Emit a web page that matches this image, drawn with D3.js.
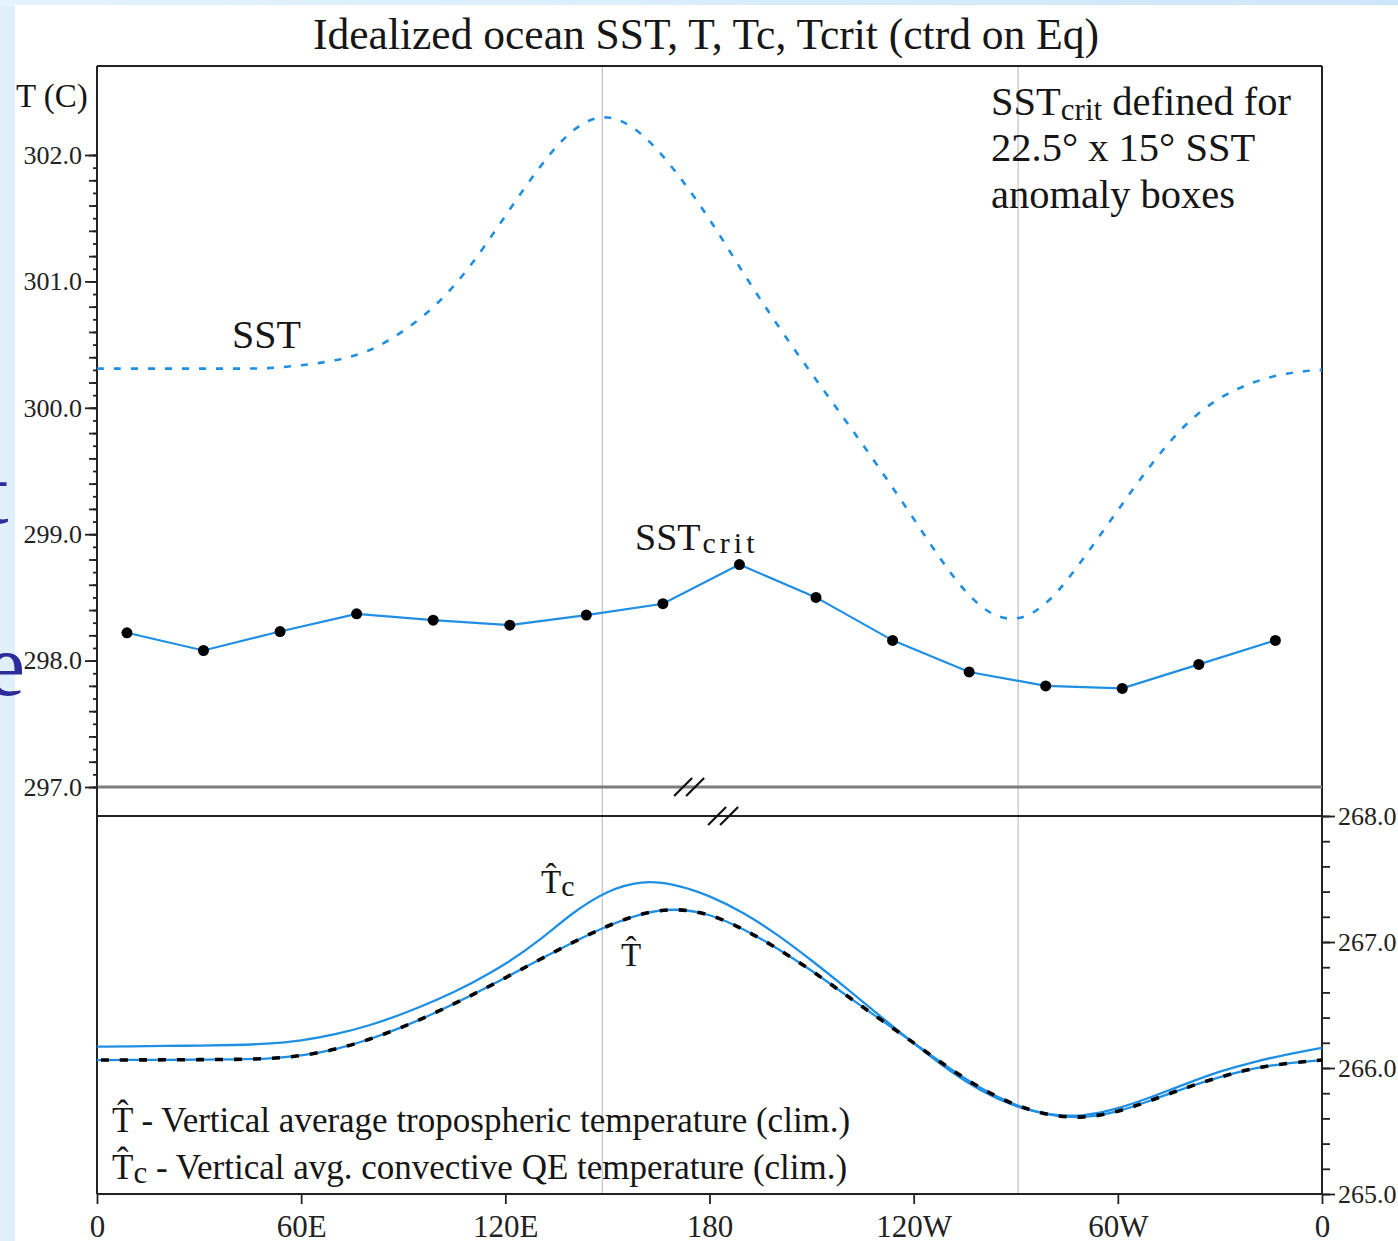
<!DOCTYPE html>
<html><head><meta charset="utf-8">
<script src="https://cdn.jsdelivr.net/npm/d3@7"></script>
<style>
body{margin:0;background:#fff;}
svg{display:block;}
text{font-family:"Liberation Serif","Times New Roman",serif;fill:#161616;}
</style>
</head><body>
<svg id="c" width="1398" height="1241"></svg>
<script>
// ---------------- data ----------------
const lonGrid = [0,10,20,30,40,50,60,70,80,90,100,110,120,130,140,150,160,170,180,190,200,210,220,230,240,250,260,270,280,290,300,310,320,330,340,350,360];
const sstVal  = [300.31,300.31,300.31,300.31,300.31,300.31,300.335,300.37,300.44,300.60,300.81,301.12,301.52,301.91,302.23,302.34,302.19,301.88,301.50,301.06,300.65,300.27,299.90,299.52,299.125,298.71,298.39,298.29,298.45,298.81,299.19,299.565,299.885,300.09,300.21,300.28,300.30];
const tcVal   = [266.17,266.172,266.175,266.178,266.182,266.19,266.215,266.265,266.335,266.43,266.54,266.67,266.82,267.01,267.24,267.41,267.49,267.46,267.37,267.235,267.06,266.855,266.64,266.415,266.195,265.985,265.81,265.69,265.625,265.615,265.675,265.77,265.875,265.975,266.05,266.11,266.16];
const tVal    = [266.063,266.064,266.065,266.066,266.068,266.072,266.095,266.145,266.225,266.325,266.445,266.575,266.715,266.86,267.0,267.13,267.23,267.27,267.225,267.105,266.95,266.775,266.58,266.39,266.2,266.005,265.83,265.70,265.62,265.60,265.65,265.745,265.845,265.93,266.0,266.04,266.063];
const critLon = [8.8,31.3,53.8,76.3,98.8,121.3,143.8,166.3,188.8,211.3,233.8,256.3,278.8,301.3,323.8,346.3];
const critVal = [298.22,298.08,298.23,298.37,298.32,298.28,298.36,298.45,298.76,298.50,298.16,297.91,297.80,297.78,297.97,298.16];
const xTickVals   = [0,60,120,180,240,300,360];
const xTickLabels = ["0","60E","120E","180","120W","60W","0"];
const topTicks = [297,298,299,300,301,302];
const botTicks = [265,266,267,268];
const refLon = [148.5,270.7];
const breakLonTop = 174, breakLonBot = 184;

// ---------------- layout ----------------
const svg = d3.select("#c");
const L = 97, R = 1322;
const x = d3.scaleLinear().domain([0,360]).range([L,R]);
const yTop = d3.scaleLinear().domain([297,302]).range([787,155]);
const yBot = d3.scaleLinear().domain([265,268]).range([1194,816]);
const topY0 = 66;
const blue = "#1f8fe3";

// background
const defs = svg.append("defs");
const g1 = defs.append("linearGradient").attr("id","tg").attr("x1","0").attr("x2","1").attr("y1","0").attr("y2","0");
g1.append("stop").attr("offset","0").attr("stop-color","#e4f3fd");
g1.append("stop").attr("offset","1").attr("stop-color","#cde7fa");
svg.append("rect").attr("width",1398).attr("height",1241).attr("fill","#dff0fc");
svg.append("rect").attr("width",1398).attr("height",6).attr("fill","url(#tg)");
svg.append("rect").attr("x",15).attr("y",5).attr("width",1383).attr("height",1236).attr("fill","#fff");

// partial slide letters on left edge (parts of background slide text)
svg.append("text").attr("x",-16).attr("y",523).attr("font-size",88).style("fill","#2c2c9c").text("t");
svg.append("text").attr("x",-14).attr("y",695).attr("font-size",88).style("fill","#2c2c9c").text("e");

// reference vertical lines
svg.selectAll("line.ref").data(refLon).enter().append("line")
  .attr("x1",d=>x(d)).attr("x2",d=>x(d)).attr("y1",topY0).attr("y2",1194)
  .attr("stroke","#c9c9cf").attr("stroke-width",1.4);

// frame lines
const frame = svg.append("g").attr("stroke","#222").attr("stroke-width",2);
frame.append("line").attr("x1",L).attr("x2",L).attr("y1",topY0).attr("y2",1194);
frame.append("line").attr("x1",R).attr("x2",R).attr("y1",topY0).attr("y2",1194);
frame.append("line").attr("x1",L).attr("x2",R).attr("y1",topY0).attr("y2",topY0);
frame.append("line").attr("x1",L).attr("x2",R).attr("y1",yBot(268)).attr("y2",yBot(268));
frame.append("line").attr("x1",L).attr("x2",R).attr("y1",yBot(265)).attr("y2",yBot(265));
svg.append("line").attr("x1",L).attr("x2",R).attr("y1",yTop(297)).attr("y2",yTop(297))
  .attr("stroke","#7d7d7d").attr("stroke-width",3.2);

// break marks
function breakMark(xc, yc){
  const g = svg.append("g").attr("stroke","#111").attr("stroke-width",2.2);
  [-6,6].forEach(o=>{
    g.append("line").attr("x1",xc+o-9).attr("y1",yc+9).attr("x2",xc+o+9).attr("y2",yc-9);
  });
}
breakMark(x(breakLonTop), yTop(297));
breakMark(x(breakLonBot), yBot(268));

// ---------------- axes ----------------
function styleAxis(g, fs){
  g.select(".domain").remove();
  g.selectAll(".tick line").attr("stroke","#222").attr("stroke-width",1.8);
  g.selectAll(".tick text").attr("font-size",fs).style("fill","#222");
}
const minor01 = d3.range(297,302.001,0.1).map(v=>+v.toFixed(1));
const minor02 = d3.range(297,302.001,0.2).map(v=>+v.toFixed(1));
svg.append("g").attr("transform",`translate(${L+1},0)`).call(d3.axisLeft(yTop).tickValues(minor01).tickSize(5).tickFormat("")).call(g=>styleAxis(g,1));
svg.append("g").attr("transform",`translate(${L+1},0)`).call(d3.axisLeft(yTop).tickValues(minor02).tickSize(9).tickFormat("")).call(g=>styleAxis(g,1));
svg.append("g").attr("transform",`translate(${L},0)`)
  .call(d3.axisLeft(yTop).tickValues(topTicks).tickSize(12).tickPadding(3).tickFormat(d3.format(".1f")))
  .call(g=>styleAxis(g,26));

const minorB = d3.range(265,268.001,0.2).map(v=>+v.toFixed(1));
svg.append("g").attr("transform",`translate(${R},0)`).call(d3.axisRight(yBot).tickValues(minorB).tickSize(8).tickFormat("")).call(g=>styleAxis(g,1));
svg.append("g").attr("transform",`translate(${R},0)`)
  .call(d3.axisRight(yBot).tickValues(botTicks).tickSize(13).tickPadding(3).tickFormat(d3.format(".1f")))
  .call(g=>styleAxis(g,26));

svg.append("g").attr("transform",`translate(0,${yBot(265)})`)
  .call(d3.axisBottom(x).tickValues(xTickVals).tickSize(10).tickPadding(11).tickFormat((d,i)=>xTickLabels[i]))
  .call(g=>styleAxis(g,31));

// ---------------- series ----------------
const sstPts = lonGrid.map((l,i)=>[l,sstVal[i]]);
svg.append("path").datum(sstPts)
  .attr("d", d3.line().x(d=>x(d[0])).y(d=>yTop(d[1])).curve(d3.curveBasis))
  .attr("fill","none").attr("stroke",blue).attr("stroke-width",2.6).attr("stroke-dasharray","7,10");

const critPts = critLon.map((l,i)=>[l,critVal[i]]);
svg.append("path").datum(critPts)
  .attr("d", d3.line().x(d=>x(d[0])).y(d=>yTop(d[1])))
  .attr("fill","none").attr("stroke",blue).attr("stroke-width",2.2);
svg.selectAll("circle.crit").data(critPts).enter().append("circle")
  .attr("cx",d=>x(d[0])).attr("cy",d=>yTop(d[1])).attr("r",5.5).attr("fill","#000");

const tcPts = lonGrid.map((l,i)=>[l,tcVal[i]]);
const tPts  = lonGrid.map((l,i)=>[l,tVal[i]]);
const lineB = d3.line().x(d=>x(d[0])).y(d=>yBot(d[1])).curve(d3.curveBasis);
svg.append("path").datum(tcPts).attr("d",lineB).attr("fill","none").attr("stroke",blue).attr("stroke-width",2.3);
svg.append("path").datum(tPts).attr("d",lineB).attr("fill","none").attr("stroke",blue).attr("stroke-width",2.3);
svg.append("path").datum(tPts).attr("d",lineB).attr("fill","none").attr("stroke","#000").attr("stroke-width",3.6).attr("stroke-dasharray","8,11").attr("stroke-dashoffset",-4);

// ---------------- texts ----------------
svg.append("text").attr("x",706).attr("y",49).attr("text-anchor","middle").attr("font-size",43.5)
  .text("Idealized ocean SST, T, Tc, Tcrit (ctrd on Eq)");
svg.append("text").attr("x",16).attr("y",107).attr("font-size",33).text("T (C)");
svg.append("text").attr("x",232).attr("y",348).attr("font-size",40).text("SST");

const sc = svg.append("text").attr("x",635).attr("y",550).attr("font-size",38);
sc.append("tspan").text("SST");
sc.append("tspan").attr("font-size",30).attr("dy",3).attr("dx",2).attr("letter-spacing",4).text("crit");

const ann = svg.append("text").attr("x",991).attr("y",115).attr("font-size",40.5);
ann.append("tspan").text("SST");
ann.append("tspan").attr("font-size",31).attr("dy",5).text("crit");
ann.append("tspan").attr("dy",-5).text(" defined for");
svg.append("text").attr("x",991).attr("y",161).attr("font-size",40.5).text("22.5° x 15° SST");
svg.append("text").attr("x",991).attr("y",208).attr("font-size",40.5).text("anomaly boxes");

const tcl = svg.append("text").attr("x",541).attr("y",893).attr("font-size",33);
tcl.append("tspan").text("T\u0302");
tcl.append("tspan").attr("font-size",30).attr("dy",3).text("c");
svg.append("text").attr("x",621).attr("y",966).attr("font-size",33).text("T\u0302");

svg.append("text").attr("x",112).attr("y",1132).attr("font-size",35)
  .text("T\u0302 - Vertical average tropospheric temperature (clim.)");
const lg2 = svg.append("text").attr("x",112).attr("y",1179).attr("font-size",35);
lg2.append("tspan").text("T\u0302");
lg2.append("tspan").attr("font-size",31).attr("dy",4).text("c");
lg2.append("tspan").attr("dy",-4).text(" - Vertical avg. convective QE temperature (clim.)");
</script>
</body></html>
